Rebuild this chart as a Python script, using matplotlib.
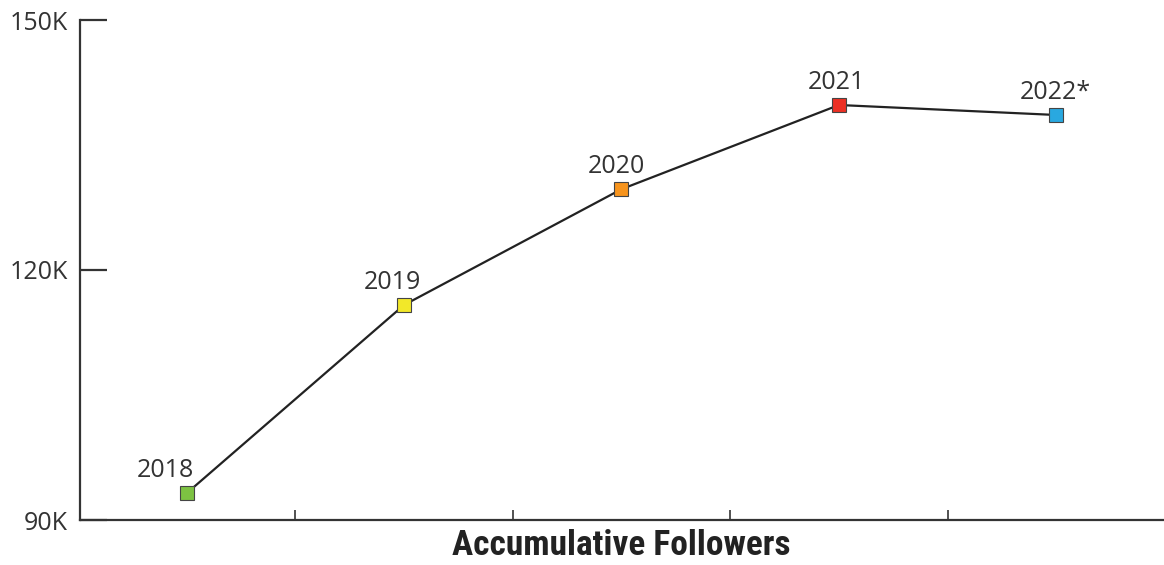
import matplotlib
matplotlib.use("Agg")
import matplotlib.pyplot as plt

years = ["2018", "2019", "2020", "2021", "2022*"]
followers = [93.2, 115.8, 129.7, 139.8, 138.6]  # thousands
marker_colors = ["#7dc242", "#f2e829", "#f7941d", "#ed3024", "#29a8e0"]
ytick_vals = [90, 120, 150]
ytick_labels = ["90K", "120K", "150K"]
title = "Accumulative Followers"

label_offsets = [(-15, 7.5), (-8.6, 7.5), (-3.6, 7.5), (-2, 7.5), (-1, 7.5)]  # points

fig = plt.figure(figsize=(11.64, 5.65), dpi=100)
ax = fig.add_axes([80/1164, 1 - 520/565, (1163-80)/1164, 500/565])

x = list(range(len(years)))
ax.plot(x, followers, color="#222222", lw=1.6, zorder=2)
for xi, yi, c in zip(x, followers, marker_colors):
    ax.plot([xi], [yi], marker="s", ms=10, mfc=c, mec="#444444", mew=0.8, ls="none", zorder=3)

for xi, yi, lab, (dx, dy) in zip(x, followers, years, label_offsets):
    ax.annotate(lab, (xi, yi), xytext=(dx, dy), textcoords="offset points",
                ha="center", va="bottom", fontsize=18, color="#333333",
                family=["Open Sans", "DejaVu Sans"])

ax.set_xlim(-0.49, 4.49)
ax.set_ylim(90, 150)
ax.set_xticks([0.5, 1.5, 2.5, 3.5])
ax.set_xticklabels([])
ax.set_yticks(ytick_vals)
ax.set_yticklabels(ytick_labels, family=["Open Sans", "DejaVu Sans"], fontsize=18, color="#333333")

for s in ["top", "right"]:
    ax.spines[s].set_visible(False)
for s in ["left", "bottom"]:
    ax.spines[s].set_linewidth(1.6)
    ax.spines[s].set_color("#333333")

ax.tick_params(axis="y", direction="in", length=19.5, width=1.6, color="#333333", pad=8.5)
ax.tick_params(axis="x", direction="in", length=7.5, width=1.2, color="#333333")

fig.text((80+1163)/2/1164, 1 - 555/565, title, ha="center", va="baseline",
         fontsize=25.5, fontweight="bold", fontstretch="condensed", color="#222222",
         family=["Roboto Condensed", "Open Sans Condensed", "DejaVu Sans"])

fig.savefig("out.png", dpi=100)
